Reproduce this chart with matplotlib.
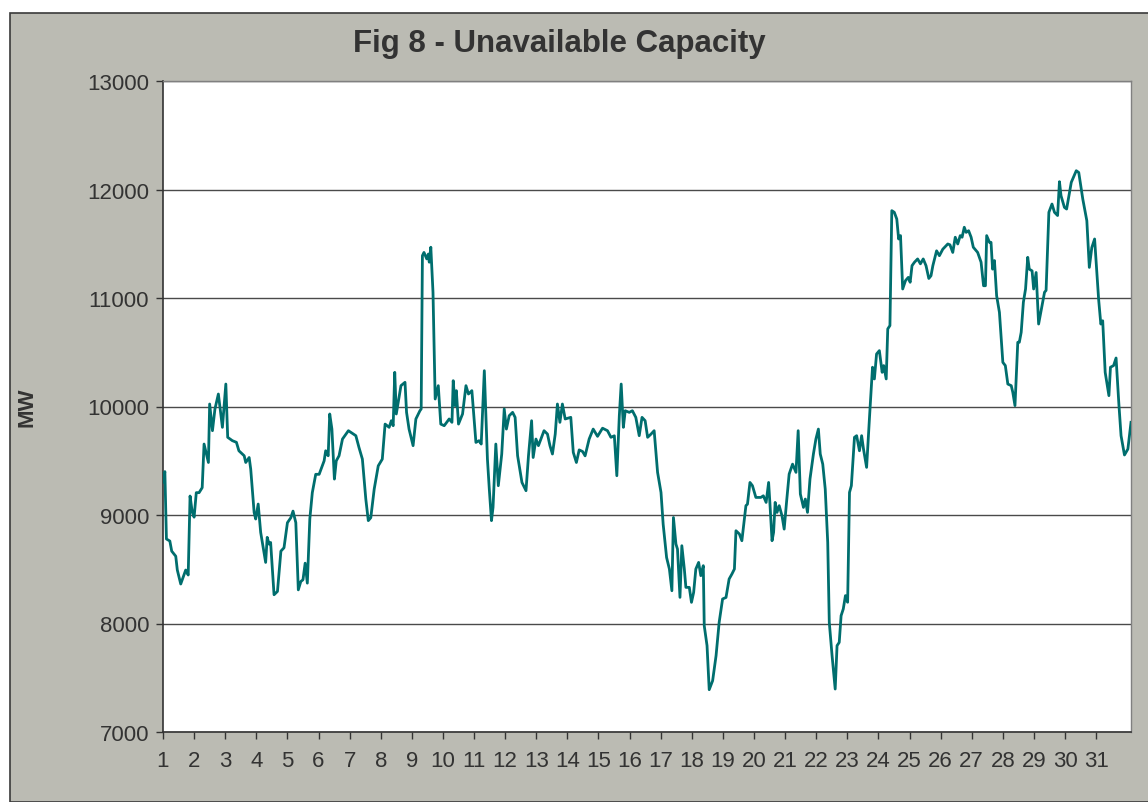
import matplotlib
matplotlib.use("Agg")
import matplotlib.pyplot as plt
from matplotlib.patches import Rectangle

# Day position (1 = start of day 1) and unavailable capacity (MW)
days = [1.00, 1.06, 1.11, 1.22, 1.28, 1.41, 1.46, 1.57, 1.73, 1.81, 1.87, 1.94, 2.00, 2.07, 2.16,
        2.26, 2.32, 2.46, 2.50, 2.59, 2.67, 2.78, 2.91, 3.02, 3.08, 3.23, 3.36, 3.44, 3.61, 3.66,
        3.77, 3.82, 3.93, 3.98, 4.06, 4.14, 4.30, 4.35, 4.41, 4.46, 4.57, 4.68, 4.79, 4.89, 5.00,
        5.11, 5.18, 5.27, 5.35, 5.43, 5.50, 5.57, 5.64, 5.72, 5.80, 5.91, 6.02, 6.18, 6.23, 6.31,
        6.36, 6.43, 6.51, 6.57, 6.66, 6.77, 6.96, 7.20, 7.30, 7.41, 7.52, 7.60, 7.68, 7.79, 7.92,
        8.05, 8.14, 8.27, 8.34, 8.40, 8.45, 8.50, 8.65, 8.78, 8.83, 8.91, 9.04, 9.13, 9.26, 9.30,
        9.34, 9.39, 9.48, 9.53, 9.56, 9.61, 9.68, 9.75, 9.85, 9.93, 10.04, 10.20, 10.29, 10.33, 10.39,
        10.43, 10.50, 10.63, 10.74, 10.82, 10.93, 11.06, 11.16, 11.23, 11.33, 11.43, 11.49, 11.56, 11.61, 11.70,
        11.78, 11.89, 11.97, 12.04, 12.13, 12.24, 12.32, 12.40, 12.54, 12.67, 12.75, 12.85, 12.90, 12.99, 13.07,
        13.25, 13.36, 13.44, 13.52, 13.61, 13.68, 13.76, 13.84, 13.93, 14.11, 14.19, 14.29, 14.38, 14.49, 14.57,
        14.70, 14.83, 14.97, 15.13, 15.29, 15.40, 15.51, 15.59, 15.67, 15.73, 15.80, 15.86, 15.99, 16.09, 16.20,
        16.31, 16.40, 16.50, 16.58, 16.69, 16.79, 16.90, 17.01, 17.08, 17.19, 17.28, 17.36, 17.41, 17.49, 17.54,
        17.62, 17.68, 17.76, 17.81, 17.92, 17.99, 18.06, 18.13, 18.22, 18.29, 18.37, 18.40, 18.49, 18.56, 18.67,
        18.78, 18.88, 18.99, 19.10, 19.20, 19.29, 19.37, 19.42, 19.53, 19.61, 19.74, 19.79, 19.87, 19.95, 20.06,
        20.22, 20.30, 20.39, 20.47, 20.51, 20.58, 20.63, 20.68, 20.74, 20.81, 20.90, 20.97, 21.05, 21.13, 21.24,
        21.35, 21.42, 21.49, 21.59, 21.65, 21.72, 21.80, 21.91, 21.99, 22.07, 22.13, 22.21, 22.29, 22.37, 22.42,
        22.51, 22.61, 22.67, 22.74, 22.80, 22.87, 22.94, 23.01, 23.07, 23.13, 23.23, 23.30, 23.39, 23.46, 23.52,
        23.62, 23.71, 23.81, 23.87, 23.94, 24.03, 24.12, 24.17, 24.25, 24.30, 24.37, 24.43, 24.51, 24.59, 24.65,
        24.71, 24.78, 24.87, 24.96, 25.02, 25.08, 25.16, 25.26, 25.35, 25.44, 25.53, 25.62, 25.69, 25.75, 25.87,
        25.96, 26.07, 26.23, 26.30, 26.39, 26.47, 26.55, 26.63, 26.69, 26.76, 26.82, 26.90, 26.98, 27.05, 27.19,
        27.30, 27.38, 27.44, 27.48, 27.57, 27.62, 27.67, 27.73, 27.80, 27.89, 28.00, 28.08, 28.16, 28.27, 28.32,
        28.39, 28.48, 28.53, 28.59, 28.66, 28.73, 28.80, 28.85, 28.94, 28.99, 29.07, 29.15, 29.23, 29.34, 29.39,
        29.48, 29.58, 29.66, 29.76, 29.82, 29.87, 29.98, 30.05, 30.20, 30.36, 30.44, 30.57, 30.70, 30.78, 30.86,
        30.95, 31.00, 31.08, 31.15, 31.21, 31.29, 31.41, 31.46, 31.56, 31.64, 31.73, 31.80, 31.91, 32.02, 32.12]

mw = [9304, 9400, 8779, 8760, 8667, 8620, 8493, 8364, 8493, 8447, 9175, 9027, 8980, 9206, 9206,
      9252, 9654, 9484, 10023, 9777, 9977, 10115, 9808, 10207, 9716, 9685, 9670, 9592, 9546, 9484,
      9530, 9423, 9023, 8963, 9101, 8840, 8563, 8794, 8732, 8747, 8265, 8296, 8667, 8698, 8929,
      8975, 9036, 8929, 8310, 8387, 8403, 8556, 8372, 8963, 9206, 9375, 9375, 9499, 9592, 9546,
      9931, 9792, 9331, 9499, 9546, 9700, 9777, 9731, 9623, 9515, 9147, 8948, 8975, 9239, 9453,
      9515, 9838, 9808, 9869, 9823, 10315, 9931, 10192, 10223, 9946, 9792, 9639, 9885, 9961, 9977,
      11390, 11420, 11360, 11405, 11330, 11468, 11053, 10069, 10192, 9838, 9823, 9885, 9854, 10238, 10008,
      10146, 9838, 9931, 10192, 10115, 10146, 9669, 9685, 9654, 10330, 9515, 9239, 8948, 9070, 9654,
      9270, 9562, 9977, 9792, 9915, 9946, 9900, 9546, 9300, 9224, 9546, 9869, 9530, 9700, 9639,
      9777, 9746, 9639, 9562, 9746, 10023, 9854, 10023, 9885, 9900, 9577, 9484, 9600, 9585, 9545,
      9700, 9792, 9725, 9800, 9777, 9716, 9730, 9362, 9915, 10207, 9808, 9961, 9946, 9961, 9900,
      9731, 9900, 9869, 9716, 9746, 9777, 9393, 9208, 8914, 8608, 8502, 8302, 8977, 8732, 8686,
      8241, 8717, 8502, 8333, 8333, 8195, 8287, 8502, 8563, 8441, 8533, 7980, 7796, 7390, 7473,
      7703, 8011, 8226, 8240, 8410, 8456, 8502, 8855, 8825, 8763, 9086, 9100, 9300, 9270, 9162,
      9162, 9177, 9116, 9300, 9116, 8763, 8840, 9116, 9024, 9086, 8993, 8870, 9131, 9377, 9469,
      9393, 9777, 9193, 9070, 9147, 9024, 9332, 9562, 9700, 9792, 9562, 9469, 9239, 8747, 8011,
      7703, 7396, 7796, 7826, 8072, 8134, 8257, 8196, 9208, 9270, 9716, 9731, 9592, 9731, 9608,
      9439, 9885, 10362, 10254, 10484, 10515, 10315, 10377, 10254, 10715, 10746, 11805, 11790, 11728, 11544,
      11575, 11083, 11160, 11190, 11145, 11298, 11330, 11360, 11315, 11360, 11298, 11180, 11205, 11298, 11435,
      11390, 11450, 11498, 11490, 11420, 11560, 11498, 11575, 11560, 11652, 11605, 11620, 11560, 11468, 11420,
      11330, 11113, 11113, 11575, 11513, 11513, 11266, 11345, 11021, 10868, 10407, 10377, 10207, 10192, 10131,
      10008, 10592, 10592, 10684, 10961, 11083, 11375, 11266, 11250, 11083, 11235, 10760, 10883, 11053, 11070,
      11790, 11866, 11790, 11760, 12072, 11943, 11835, 11820, 12066, 12173, 12157, 11912, 11712, 11282, 11465,
      11544, 11330, 10985, 10760, 10790, 10315, 10100, 10362, 10377, 10447, 10023, 9731, 9553, 9608, 9854]

day_ticks = list(range(1, 32))
y_ticks = [7000, 8000, 9000, 10000, 11000, 12000, 13000]
title = "Fig 8 - Unavailable Capacity"
ylabel = "MW"

plt.rcParams['font.family'] = ['Liberation Sans', 'DejaVu Sans']

W, H = 1148, 803
fig = plt.figure(figsize=(W / 100, H / 100), dpi=100)
fig.patch.set_facecolor('white')
bg = '#BBBBB3'
fig.patches.append(Rectangle((10 / W, 0), 1.2, 1 - 14 / H, transform=fig.transFigure,
                             facecolor=bg, edgecolor='#3a3a3a', linewidth=1.2, zorder=-5))

ax = fig.add_axes([163 / W, (H - 733) / H, (1131 - 163) / W, (733 - 82) / H])
ax.set_zorder(2)
ax.set_facecolor('white')
ax.plot(days, mw, color='#006E6E', lw=2.0, solid_joinstyle='round', zorder=3)

ax.set_xlim(1, 32.12)
ax.set_ylim(7000, 13000)
ax.set_yticks(y_ticks)
ax.set_yticklabels([str(v) for v in y_ticks])
ax.set_xticks(day_ticks)
ax.set_xticklabels([str(d) for d in day_ticks])
ax.yaxis.grid(True, color='#4a4a4a', lw=1.0)
ax.set_axisbelow(True)
ax.tick_params(axis='both', labelsize=16, colors='#333333', length=5, width=1, direction='out')
ax.tick_params(axis='x', pad=8)
ax.tick_params(axis='y', pad=5)
for s in ['left', 'bottom']:
    ax.spines[s].set_color('#333333')
    ax.spines[s].set_linewidth(1.2)
for s in ['top', 'right']:
    ax.spines[s].set_color('#808080')
    ax.spines[s].set_linewidth(1.0)

ax.set_ylabel(ylabel, fontsize=16, fontweight='bold', color='#333333', labelpad=36)
fig.text(559 / W, 1 - 44 / H, title, ha='center', va='center', fontsize=22.5,
         fontweight='bold', color='#333333', zorder=5)

fig.savefig('out.png', dpi=100, facecolor=fig.get_facecolor())
